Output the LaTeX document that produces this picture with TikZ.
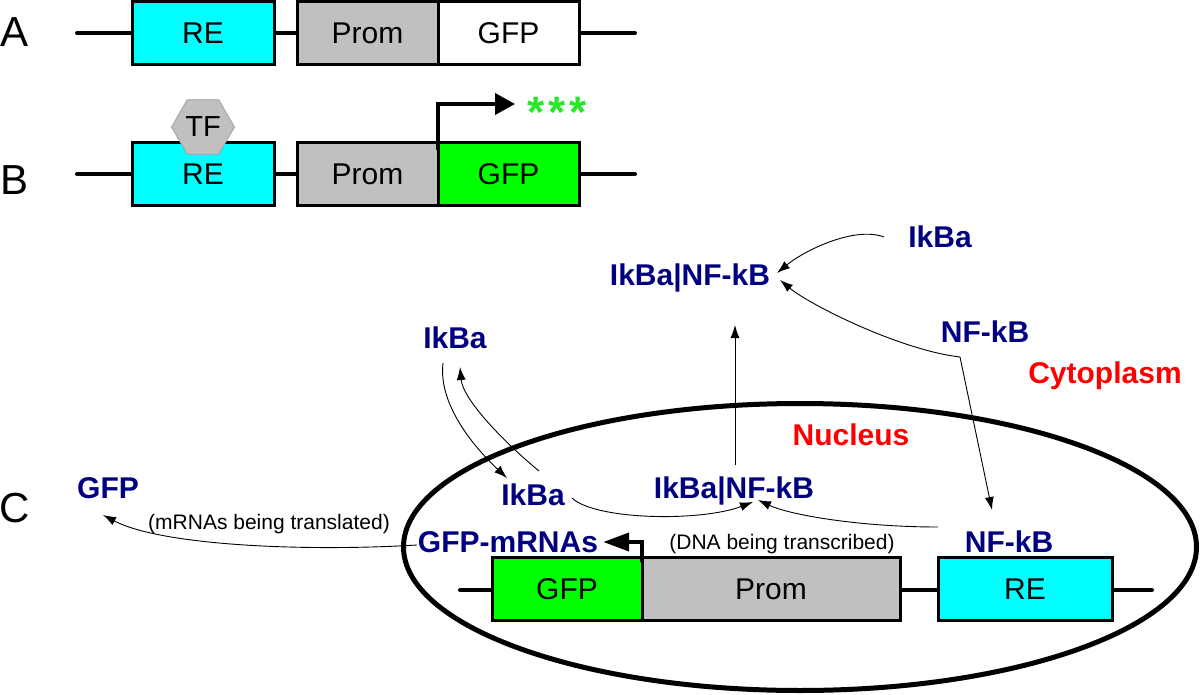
\documentclass[tikz,border=0pt]{standalone}
\usepackage{fontspec}
\setmainfont{Liberation Sans}
\usetikzlibrary{shapes.geometric, arrows.meta, positioning}

\definecolor{reCyan}{RGB}{0,255,255}
\definecolor{promGray}{RGB}{192,192,192}
\definecolor{gfpGreen}{RGB}{0,255,0}
\definecolor{starGreen}{RGB}{40,230,40}
\definecolor{molBlue}{RGB}{0,0,128}
\definecolor{tfEdge}{RGB}{160,160,160}

\begin{document}
\begin{tikzpicture}[x=1pt, y=-1pt,
        % styles
        box/.style = {
                rectangle, draw=black, line width=3pt,
                minimum height=63pt, inner sep=0pt, outer sep=0pt,
                text centered, font=\fontsize{30}{30}\selectfont
            },
        rebox/.style = {box, fill=reCyan},
        prombox/.style = {box, fill=promGray},
        gfpoff/.style = {box, fill=white},
        gfpon/.style = {box, fill=gfpGreen},
        tf/.style = {
                regular polygon, regular polygon sides=6,
                minimum size=63pt, inner sep=0pt,
                fill=promGray, draw=tfEdge, line width=0.8pt,
                font=\fontsize{29}{29}\selectfont
            },
        panel/.style = {anchor=base, font=\fontsize{42}{42}\selectfont},
        mol/.style = {
                anchor=base, inner sep=2pt, text=molBlue,
                font=\bfseries\fontsize{30}{30}\selectfont
            },
        region/.style = {anchor=base, text=red, font=\bfseries\fontsize{30}{30}\selectfont},
        note/.style = {anchor=base, font=\fontsize{21}{21}\selectfont},
        dna/.style = {line width=4pt, line cap=round},
        bent/.style = {line width=4pt},
        arrow/.style = {line width=0.9pt, -{Latex[length=13pt,width=9pt]}}]

    \useasboundingbox (0,0) rectangle (1200,695);

    % A
    \coordinate (a-l) at (77,33);
    \coordinate (a-r) at (635,33);
    \draw [dna] (a-l) -- (a-r);
    \node (promA) [prombox, minimum width=141pt] at (367.5,33.5) {Prom};
    \node (gfpA) [gfpoff, minimum width=141pt, right=0pt of promA] {GFP};
    \node (reA) [rebox, minimum width=142pt, left=23pt of promA] {RE};
    \node (labA) [panel] at (15,47) {A};

    % B
    \coordinate (b-l) at (77,174);
    \coordinate (b-r) at (635,174);
    \draw [dna] (b-l) -- (b-r);
    \node (promB) [prombox, minimum width=141pt] at (367.5,174.5) {Prom};
    \node (gfpB) [gfpon, minimum width=141pt, right=0pt of promB] {GFP};
    \node (reB) [rebox, minimum width=142pt, left=23pt of promB] {RE};
    \node (tf) [tf] at (203,127) {TF};
    \node (labB) [panel] at (15,195) {B};
    \node (stars) [anchor=base west, inner sep=0pt, text=starGreen,
        font=\bfseries\fontsize{44}{44}\selectfont] at (527,128) {*\kern4pt*\kern4pt*};
    \draw [bent, -{Triangle[length=20pt,width=21pt]}]
        ([yshift=-7pt]gfpB.north west) |- ([xshift=-12pt,yshift=24pt]stars.base west);

    % C
    \node (nucleus) [ellipse, draw, line width=5pt, minimum width=793pt,
        minimum height=287pt, inner sep=0pt] at (800,547) {};
    \coordinate (c-l) at (460,590);
    \coordinate (c-r) at (1152,590);
    \draw [dna] (c-l) -- (c-r);
    \node (promC) [prombox, minimum width=258pt] at (771,589) {Prom};
    \node (gfpC) [gfpon, minimum width=150pt, left=0pt of promC] {GFP};
    \node (reC) [rebox, minimum width=174pt, right=38pt of promC] {RE};
    \node (labC) [panel] at (15,522) {C};

    \node (gfpL) [mol] at (108,498) {GFP};
    \node (mrna) [mol] at (508,552) {GFP-mRNAs};
    \node (ikbaN) [mol] at (533,505) {IkBa};
    \node (cplxN) [mol] at (734,498) {IkBa|NF-kB};
    \node (nfkbN) [mol] at (1009,552) {NF-kB};
    \node (cplxC) [mol] at (690,286) {IkBa|NF-kB};
    \node (ikbaL) [mol] at (455,348) {IkBa};
    \node (ikbaR) [mol] at (940,248) {IkBa};
    \node (nfkbC) [mol] at (985,342) {NF-kB};

    \node (nuc) [region] at (851,445) {Nucleus};
    \node (cyto) [region] at (1105,383) {Cytoplasm};
    \node (transl) [note] at (269,529) {(mRNAs being translated)};
    \node (transc) [note] at (782,549) {(DNA being transcribed)};

    % arrows
    \draw [bent, -{Triangle[length=26pt,width=18pt]}]
        ([yshift=-4pt]gfpC.north east) |- ([xshift=3pt,yshift=10pt]mrna.base east);
    \draw [arrow] ([xshift=-56pt,yshift=11pt]ikbaR.base) .. controls (855,226) and (805,250) .. ([xshift=87pt,yshift=13pt]cplxC.base);
    \draw [arrow] ([xshift=-25pt,yshift=-15pt]nfkbC.base) .. controls (900,350) and (810,305) .. ([xshift=90pt,yshift=6pt]cplxC.base);
    \draw [arrow] ([xshift=-25pt,yshift=-15pt]nfkbC.base) -- ([xshift=-17pt,yshift=42pt]nfkbN.base);
    \draw [arrow] ([xshift=1pt,yshift=33pt]cplxN.base) -- ([xshift=45pt,yshift=-39pt]cplxC.base);
    \draw [arrow] ([xshift=-12pt,yshift=-15pt]ikbaL.base) .. controls (438,405) and (475,448) .. ([xshift=-26pt,yshift=27pt]ikbaN.base);
    \draw [arrow] ([xshift=6pt,yshift=34pt]ikbaN.base) .. controls (505,443) and (463,400) .. ([xshift=5pt,yshift=-19pt]ikbaL.base);
    \draw [arrow] ([xshift=39pt,yshift=7pt]ikbaN.base) .. controls (595,520) and (700,522) .. ([xshift=19pt,yshift=-4pt]cplxN.base);
    \draw [arrow] ([xshift=-71pt,yshift=25pt]nfkbN.base) .. controls (860,527) and (790,515) .. ([xshift=24pt,yshift=-2pt]cplxN.base);
    \draw [arrow] ([xshift=-91pt,yshift=7pt]mrna.base) .. controls (300,552) and (160,545) .. ([xshift=-5pt,yshift=-17pt]gfpL.base);
\end{tikzpicture}
\end{document}
